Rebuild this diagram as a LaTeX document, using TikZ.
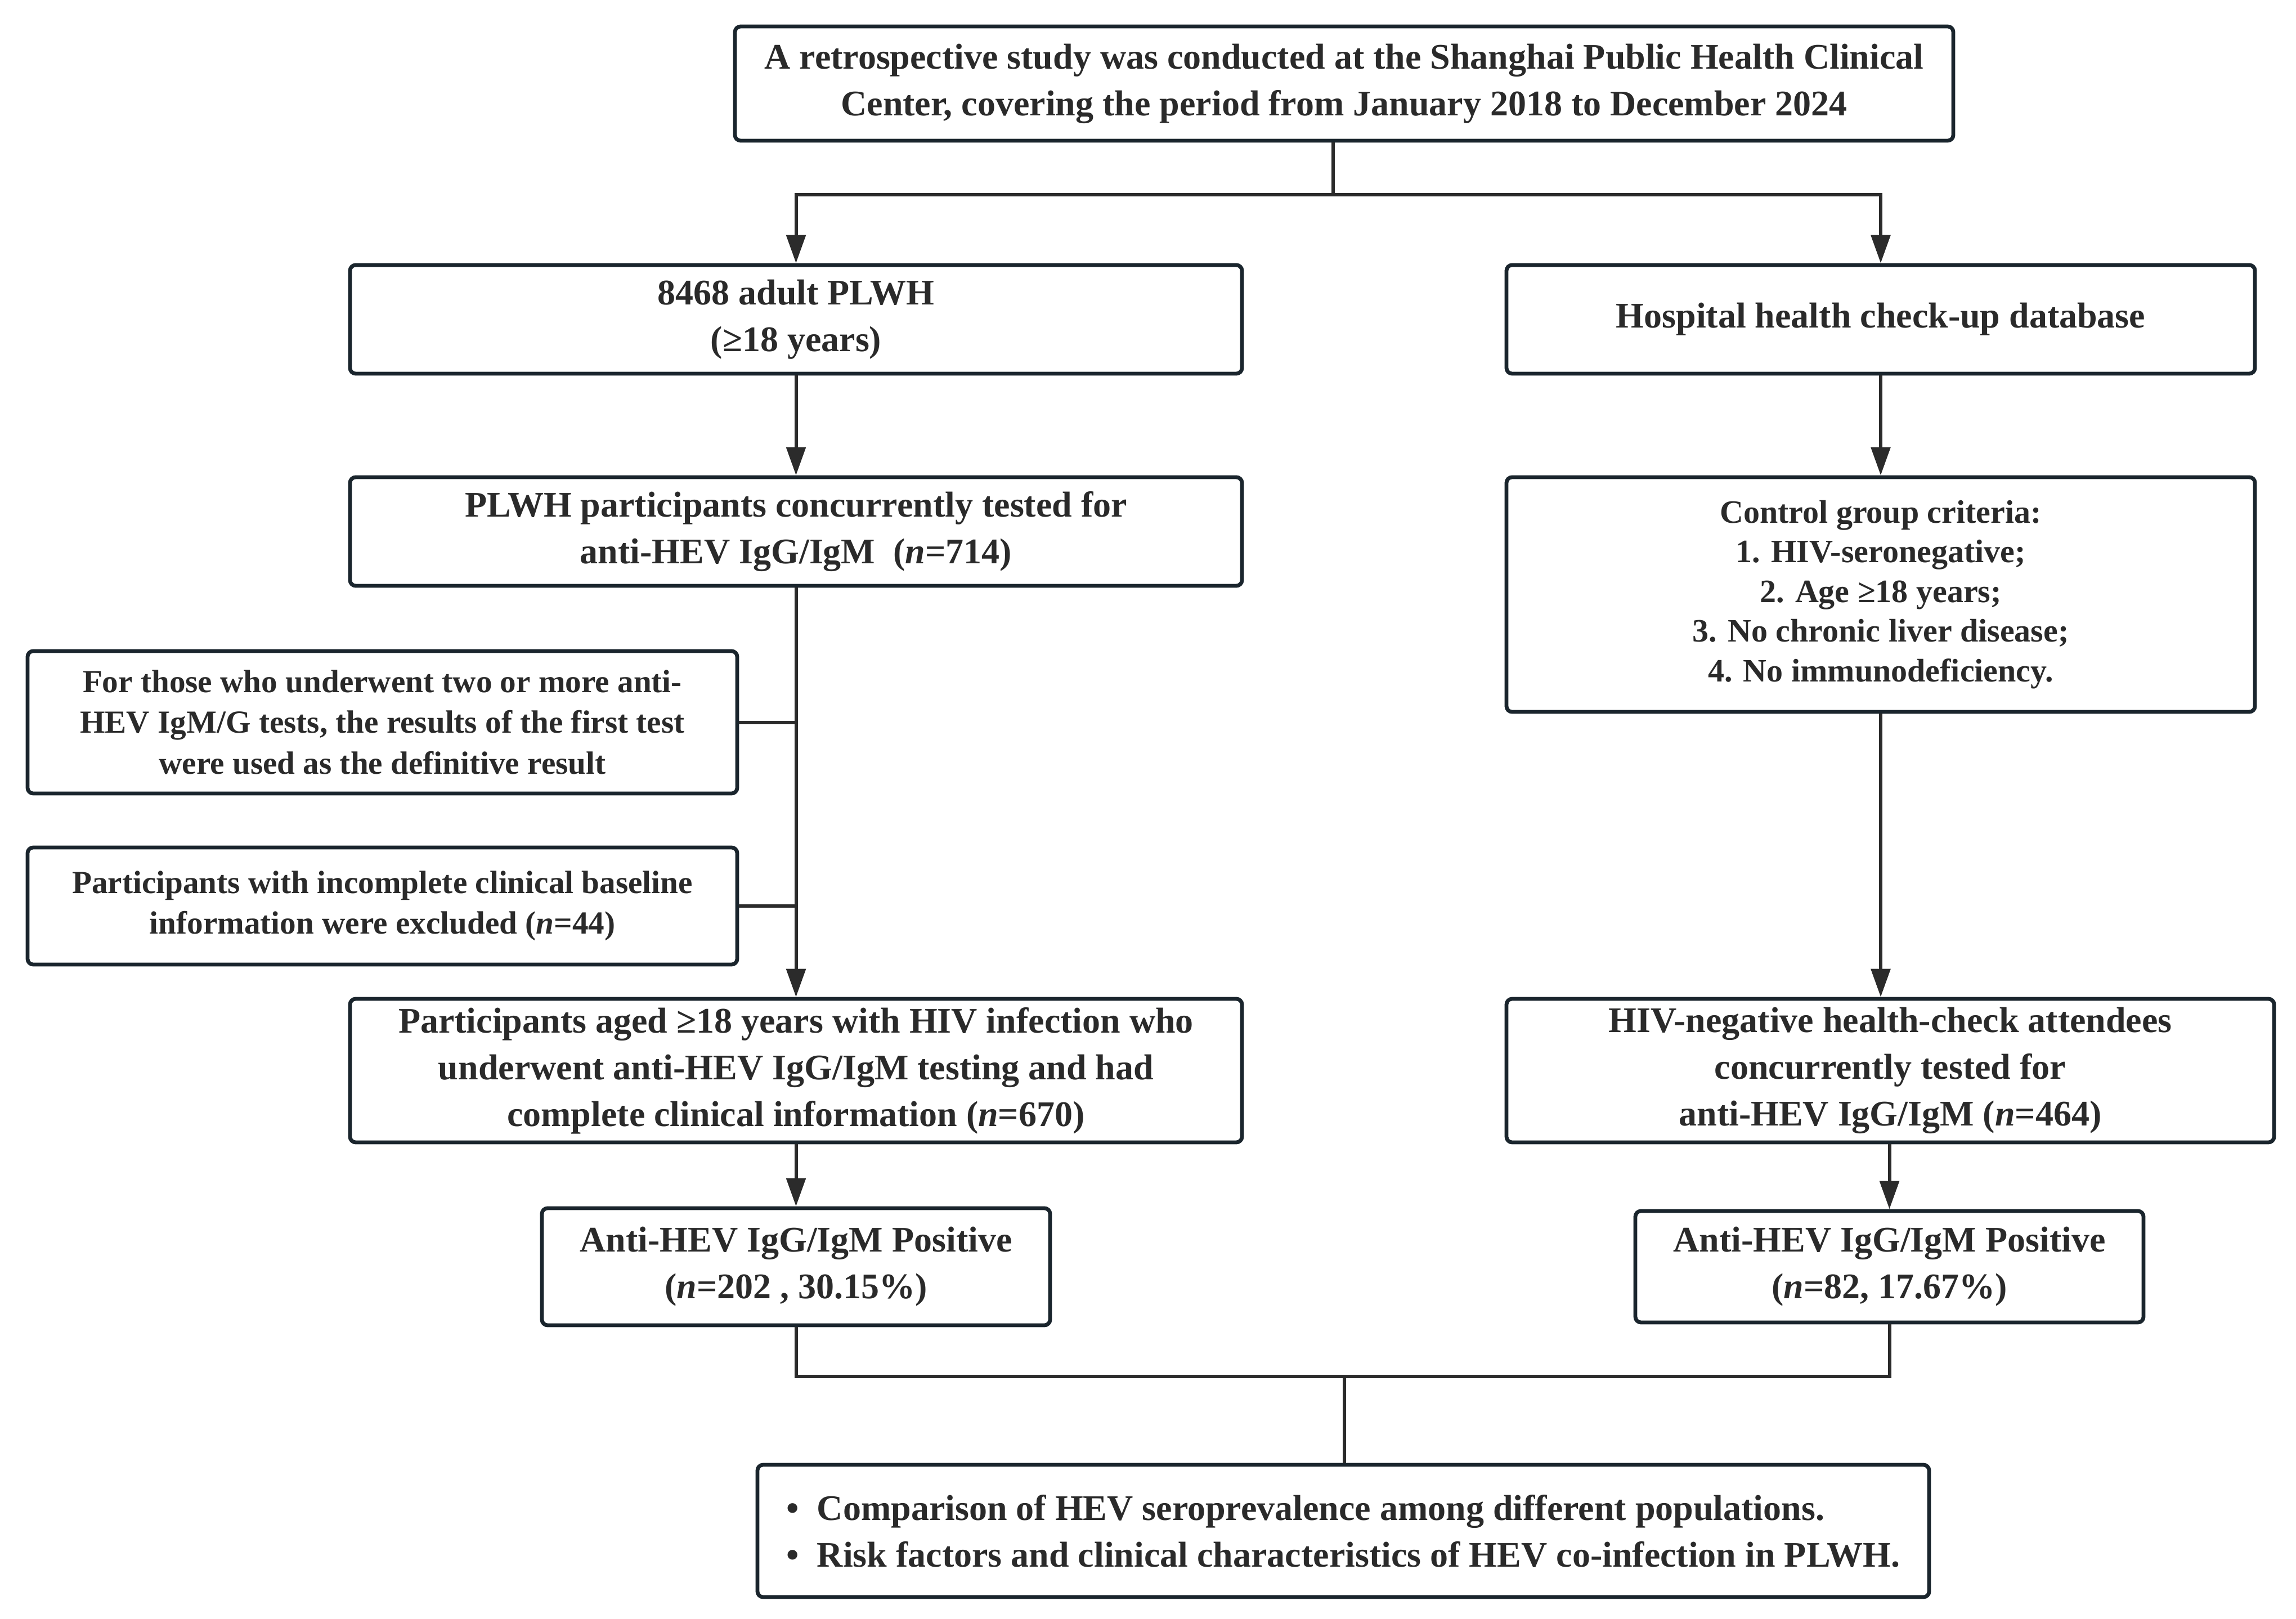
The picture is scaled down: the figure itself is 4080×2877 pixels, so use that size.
\documentclass[tikz,border=0pt]{standalone}
\usepackage{fontspec}
\setmainfont{Liberation Serif}
\usetikzlibrary{arrows.meta}
\definecolor{bordc}{HTML}{1A252D}
\definecolor{txtc}{HTML}{2A2A2A}
\definecolor{linec}{HTML}{2B2B2B}
\tikzset{
  box/.style={draw=bordc, line width=1.7pt, rounded corners=2.5pt, fill=white,
    text=txtc, align=center, inner sep=0pt},
  fmain/.style={font=\fontsize{16pt}{20.75pt}\selectfont\bfseries},
  fsmall/.style={font=\fontsize{14.3pt}{18pt}\selectfont\bfseries},
  fctrl/.style={font=\fontsize{14.5pt}{17.6pt}\selectfont\bfseries},
  conn/.style={draw=linec, line width=1.5pt},
  arr/.style={conn, -{Triangle[length=12.5pt,width=8.5pt]}},
}
\begin{document}
\begin{tikzpicture}[x=0.25pt,y=-0.25pt]
\useasboundingbox (0,0) rectangle (4080,2877);
\fill[white] (0,0) rectangle (4080,2877);

\node[box, fmain, minimum width=541.25pt, minimum height=50.75pt] (top) at (2388.5,148.5)
  {A retrospective study was conducted at the Shanghai Public Health Clinical\\
   Center, covering the period from January 2018 to December 2024};

\node[box, fmain, minimum width=396.25pt, minimum height=48.25pt] (A) at (1414.5,567.5)
  {8468 adult PLWH\\(≥18 years)};
\node[box, fmain, minimum width=332.5pt, minimum height=48.25pt] (H) at (3342,567.5)
  {Hospital health check-up database};

\node[box, fmain, minimum width=396.25pt, minimum height=48.25pt] (B) at (1414.5,944.5)
  {PLWH participants concurrently tested for\\anti-HEV IgG/IgM\ \ (\textit{n}=714)};
\node[box, fctrl, minimum width=332.5pt, minimum height=104.25pt] (C) at (3342,1056.5)
  {Control group criteria:\\1. HIV-seronegative;\\2. Age ≥18 years;\\3. No chronic liver disease;\\4. No immunodeficiency.};

\node[box, fsmall, minimum width=315.25pt, minimum height=63.25pt] (X1) at (679.5,1283.5)
  {For those who underwent two or more anti-\\HEV IgM/G tests, the results of the first test\\were used as the definitive result};
\node[box, fsmall, minimum width=315.25pt, minimum height=52pt] (X2) at (679.5,1610)
  {Participants with incomplete clinical baseline\\information were excluded (\textit{n}=44)};

\node[box, fmain, minimum width=396.25pt, minimum height=63.75pt] (D) at (1414.5,1902.5)
  {Participants aged ≥18 years with HIV infection who\\underwent anti-HEV IgG/IgM testing and had\\complete clinical information (\textit{n}=670)};
\node[box, fmain, minimum width=341pt, minimum height=63.75pt] (E) at (3359,1902.5)
  {HIV-negative health-check attendees\\concurrently tested for\\anti-HEV IgG/IgM (\textit{n}=464)};

\node[box, fmain, minimum width=225.75pt, minimum height=52pt] (F) at (1414.5,2251)
  {Anti-HEV IgG/IgM Positive\\(\textit{n}=202 , 30.15\%)};
\node[box, fmain, minimum width=225.75pt, minimum height=49.5pt] (G) at (3357.5,2251)
  {Anti-HEV IgG/IgM Positive\\(\textit{n}=82, 17.67\%)};

\node[box, fmain, align=left, minimum width=520.5pt, minimum height=58.75pt] (Bot) at (2387,2720.5)
  {•\ \ Comparison of HEV seroprevalence among different populations.\\
   •\ \ Risk factors and clinical characteristics of HEV co-infection in PLWH.};

\coordinate (split) at (2369,346);
\coordinate (merge) at (2389,2446);

\draw[conn] (top.south -| split) -- (split);
\draw[arr] (split) -| (A.north);
\draw[arr] (split) -| (H.north);
\draw[arr] (A.south) -- (B.north);
\draw[arr] (H.south) -- (C.north);
\draw[arr] (B.south) -- (D.north);
\draw[conn] (X1.east) -- (X1.east -| B.south);
\draw[conn] (X2.east) -- (X2.east -| B.south);
\draw[arr] (C.south) -- (C.south |- E.north);
\draw[arr] (D.south) -- (F.north);
\draw[arr] (G.north |- E.south) -- (G.north);
\draw[conn] (F.south) |- (merge);
\draw[conn] (G.south) |- (merge);
\draw[conn] (merge) -- (Bot.north -| merge);
\end{tikzpicture}
\end{document}
